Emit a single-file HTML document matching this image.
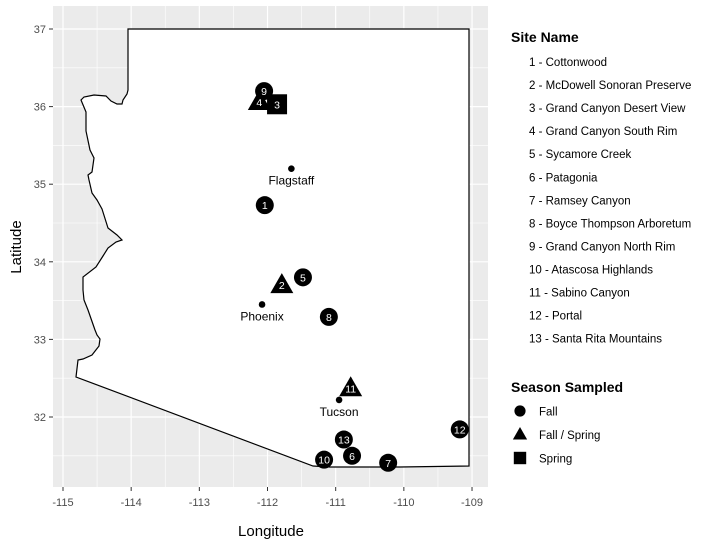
<!DOCTYPE html>
<html><head><meta charset="utf-8"><style>
body{margin:0;background:#fff;font-family:"Liberation Sans",Arial,sans-serif}
svg text{font-family:"Liberation Sans",Arial,sans-serif}
</style></head><body>
<svg id="chart" width="716" height="546" viewBox="0 0 716 546" xmlns="http://www.w3.org/2000/svg">
<rect x="53" y="6" width="435" height="481" fill="#ebebeb"/>
<g id="grid"></g>
<path fill="#fff" stroke="#000" stroke-width="1.2" d="M128,29 L469,29 L469,466 L400,467 L330,467 L313,466 L76,377 L78,360 L83,359 L92,355 L99,346 L100,339 L97,335 L95,330 L88,310 L84,300 L83,290 L83,277 L96,267 L103,256 L108,248 L116,242 L122,240 L117,235 L108,228 L102,209 L97,200 L92,193 L89,180 L88,175 L92,172 L94,158 L90,150 L86,131 L86,112 L81,100 L84,97 L94,95 L106,96 L111,101 L117,104 L122,104 L123,100 L127,94 L128,90 Z"/>
<g id="axes"></g>
<g id="marks"></g>
<text x="271" y="536" text-anchor="middle" font-size="15" fill="#000">Longitude</text>
<text transform="translate(21,247) rotate(-90)" text-anchor="middle" font-size="15" fill="#000">Latitude</text>
<g id="legend"></g>
</svg>
<script>
const xTicks=[-115,-114,-113,-112,-111,-110,-109];
const yTicks=[32,33,34,35,36,37];
const siteIds=[1,2,3,4,5,6,7,8,9,10,11,12,13];
const siteNames=["Cottonwood","McDowell Sonoran Preserve","Grand Canyon Desert View","Grand Canyon South Rim","Sycamore Creek","Patagonia","Ramsey Canyon","Boyce Thompson Arboretum","Grand Canyon North Rim","Atascosa Highlands","Sabino Canyon","Portal","Santa Rita Mountains"];
const siteLon=[-112.04,-111.79,-111.86,-112.12,-111.48,-110.76,-110.23,-111.10,-112.05,-111.17,-110.78,-109.18,-110.88];
const siteLat=[34.73,33.70,36.03,36.06,33.80,31.50,31.41,33.29,36.20,31.45,32.37,31.84,31.71];
const siteSeason=["Fall","Fall / Spring","Spring","Fall / Spring","Fall","Fall","Fall","Fall","Fall","Fall","Fall / Spring","Fall","Fall"];
const seasons=["Fall","Fall / Spring","Spring"];
const cityNames=["Flagstaff","Phoenix","Tucson"];
const cityLon=[-111.65,-112.08,-110.95];
const cityLat=[35.20,33.45,32.22];

const NS="http://www.w3.org/2000/svg";
const X=v=>63+(v+115)*68.17;
const Y=v=>29+(37-v)*77.6;
function mk(tag,attrs,parent){const e=document.createElementNS(NS,tag);for(const k in attrs)e.setAttribute(k,attrs[k]);parent.appendChild(e);return e;}
const grid=document.getElementById('grid'),axes=document.getElementById('axes'),marks=document.getElementById('marks'),legend=document.getElementById('legend');
// minor grid
for(let i=0;i<xTicks.length-1;i++){const x=X((xTicks[i]+xTicks[i+1])/2);const l=mk('line',{x1:x,x2:x,y1:6,y2:487,stroke:'#fff','stroke-width':0.6},grid);

}
for(let i=0;i<yTicks.length-1;i++){const y=Y((yTicks[i]+yTicks[i+1])/2);const l=mk('line',{x1:53,x2:488,y1:y,y2:y,stroke:'#fff','stroke-width':0.6},grid);

}
{const y=Y(31.5);const l=mk('line',{x1:53,x2:488,y1:y,y2:y,stroke:'#fff','stroke-width':0.6},grid);

}
xTicks.forEach(t=>{const x=X(t);const l=mk('line',{x1:x,x2:x,y1:6,y2:487,stroke:'#fff','stroke-width':1.2},grid);


const tk=mk('line',{x1:x,x2:x,y1:487,y2:491,stroke:'#333','stroke-width':1},axes);


const tx=mk('text',{x:x,y:506,'text-anchor':'middle','font-size':11,fill:'#4d4d4d'},axes);tx.textContent=String(t).replace('-','-');

});
yTicks.forEach(t=>{const y=Y(t);const l=mk('line',{x1:53,x2:488,y1:y,y2:y,stroke:'#fff','stroke-width':1.2},grid);


const tk=mk('line',{x1:49,x2:53,y1:y,y2:y,stroke:'#333','stroke-width':1},axes);


const tx=mk('text',{x:46,y:y+4,'text-anchor':'end','font-size':11,fill:'#4d4d4d'},axes);tx.textContent=t;

});
function shape(season,cx,cy,parent,s){
 let e;
 if(season==="Fall")e=mk('circle',{cx:cx,cy:cy,r:9*s,fill:'#000'},parent);
 else if(season==="Spring")e=mk('rect',{x:cx-10*s,y:cy-10*s,width:20*s,height:20*s,fill:'#000'},parent);
 else e=mk('polygon',{points:`${cx},${cy-12*s} ${cx-11.5*s},${cy+8*s} ${cx+11.5*s},${cy+8*s}`,fill:'#000'},parent);
 return e;
}
// cities
cityNames.forEach((n,i)=>{const cx=X(cityLon[i]),cy=Y(cityLat[i]);
const d=mk('circle',{cx:cx,cy:cy,r:3.3,fill:'#000'},marks);


const t=mk('text',{x:cx,y:cy+16,'text-anchor':'middle','font-size':12,fill:'#000'},marks);t.textContent=n;

});
// sites
siteIds.forEach((id,i)=>{const cx=X(siteLon[i]),cy=Y(siteLat[i]);
const g=mk('g',{},marks);


shape(siteSeason[i],cx,cy,g,1);
const t=mk('text',{x:cx,y:cy+4,'text-anchor':'middle','font-size':10.5,fill:'#fff'},g);t.textContent=id;});
// legend
let tt=mk('text',{x:511,y:42,'font-size':14,'font-weight':'bold',fill:'#000'},legend);tt.textContent="Site Name";


siteIds.forEach((id,i)=>{const t=mk('text',{x:529,y:66+i*23.05,'font-size':11.5,fill:'#000'},legend);t.textContent=id+" - "+siteNames[i];

});
tt=mk('text',{x:511,y:392,'font-size':14,'font-weight':'bold',fill:'#000'},legend);tt.textContent="Season Sampled";


seasons.forEach((s,i)=>{const cy=411+i*23.5;const g=mk('g',{},legend);


shape(s,520,cy,g,0.62);
const t=mk('text',{x:539,y:cy+4.5,'font-size':11.5,fill:'#000'},g);t.textContent=s;});
</script>
</body></html>
